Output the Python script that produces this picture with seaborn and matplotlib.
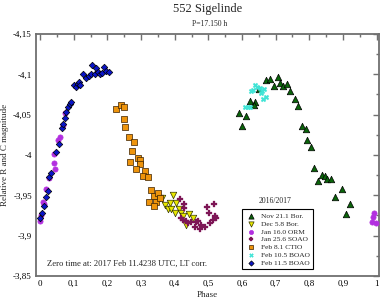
#!/usr/bin/env python3
"""552 Sigelinde composite lightcurve, P=17.150 h."""

import matplotlib
matplotlib.use("Agg")
import matplotlib.pyplot as plt
from matplotlib.ticker import FuncFormatter, MultipleLocator
import pandas as pd
import seaborn as sns

# Nov 21.1 Bor.
nov_phase = [0.591, 0.613, 0.601, 0.623, 0.640, 0.635, 0.651, 0.672, 0.684, 0.694, 0.706,
             0.712, 0.721, 0.733, 0.744, 0.756, 0.766, 0.777, 0.789, 0.793, 0.805, 0.815,
             0.825, 0.837, 0.848, 0.853, 0.865, 0.897, 0.876, 0.920, 0.909]
nov_mag = [-4.0517, -4.0487, -4.0356, -4.0666, -4.0661, -4.0616, -4.0818, -4.0930, -4.0938,
           -4.0859, -4.0963, -4.0889, -4.0859, -4.0876, -4.0790, -4.0690, -4.0611, -4.0359,
           -4.0319, -4.0182, -4.0099, -3.9843, -3.9681, -3.9752, -3.9740, -3.9699, -3.9699,
           -3.9575, -3.9476, -3.9393, -3.9272]

# Dec 5.8 Bor.
dec_phase = [0.395, 0.355, 0.363, 0.372, 0.385, 0.404, 0.380, 0.390, 0.412, 0.400, 0.419,
             0.424, 0.444, 0.454, 0.434]
dec_mag = [-3.9504, -3.9463, -3.9463, -3.9380, -3.9401, -3.9401, -3.9327, -3.9330, -3.9330,
           -3.9285, -3.9277, -3.9244, -3.9265, -3.9223, -3.9132]

# Jan 16.0 ORM
j16_phase = [0.000, 0.003, 0.010, 0.013, 0.018, 0.028, 0.040, 0.041, 0.044, 0.053, 0.058,
             0.068, 0.073, 0.989, 0.999, 0.987, 0.991]
j16_mag = [-3.9186, -3.9256, -3.9421, -3.9393, -3.9575, -3.9711, -3.9905, -4.0012, -3.9823,
           -4.0186, -4.0227, -4.0372, -4.0521, -3.9235, -3.9161, -3.9166, -3.9287]

# Jan 25.6 SOAO
j25_phase = [0.417, 0.429, 0.429, 0.496, 0.517, 0.501, 0.519, 0.524, 0.514, 0.506, 0.419,
             0.424, 0.434, 0.449, 0.464, 0.469, 0.439, 0.459, 0.474, 0.489, 0.479]
j25_mag = [-3.9454, -3.9393, -3.9339, -3.9355, -3.9389, -3.9277, -3.9244, -3.9215, -3.9194,
           -3.9153, -3.9223, -3.9194, -3.9182, -3.9173, -3.9173, -3.9186, -3.9153, -3.9104,
           -3.9079, -3.9104, -3.9132]

# Feb 8.1 CTIO
f08_phase = [0.225, 0.242, 0.248, 0.248, 0.252, 0.263, 0.280, 0.274, 0.290, 0.297, 0.268,
             0.296, 0.286, 0.312, 0.307, 0.320, 0.330, 0.340, 0.351, 0.323, 0.345, 0.340, 0.357]
f08_mag = [-4.0570, -4.0620, -4.0599, -4.0446, -4.0343, -4.0223, -4.0165, -4.0053, -3.9967,
           -3.9938, -3.9917, -3.9885, -3.9826, -3.9802, -3.9743, -3.9727, -3.9570, -3.9492,
           -3.9525, -3.9414, -3.9414, -3.9368, -3.9471]

# Feb 10.5 BOAO
f10_phase = [0.638, 0.646, 0.628, 0.633, 0.653, 0.658, 0.666, 0.656, 0.661, 0.670, 0.610,
             0.618, 0.623]
f10_mag = [-4.0868, -4.0847, -4.0797, -4.0806, -4.0827, -4.0797, -4.0814, -4.0772, -4.0690,
           -4.0723, -4.0591, -4.0591, -4.0599]

# Feb 11.5 BOAO
f11_phase = [0.000, 0.006, 0.013, 0.018, 0.023, 0.028, 0.033, 0.046, 0.056, 0.065, 0.068,
             0.073, 0.078, 0.083, 0.088, 0.093, 0.100, 0.106, 0.113, 0.116, 0.118, 0.128,
             0.137, 0.145, 0.152, 0.155, 0.162, 0.167, 0.172, 0.177, 0.185, 0.189, 0.197, 0.204]
f11_mag = [-3.9215, -3.9285, -3.9368, -3.9476, -3.9557, -3.9731, -3.9773, -4.0033, -4.0136,
           -4.0338, -4.0381, -4.0462, -4.0529, -4.0599, -4.0628, -4.0661, -4.0868, -4.0839,
           -4.0876, -4.0901, -4.0868, -4.1004, -4.0958, -4.0983, -4.1000, -4.1116, -4.1000,
           -4.1075, -4.1025, -4.1008, -4.1013, -4.1095, -4.1045, -4.1033]

# label, phases, mags, marker, face colour, edge colour, size
series = [
    ("Nov 21.1 Bor.", nov_phase, nov_mag, "^", "#0a640a", "black", 22),
    ("Dec 5.8 Bor.", dec_phase, dec_mag, "v", "#e8e800", "#333300", 22),
    ("Jan 16.0 ORM", j16_phase, j16_mag, "o", "#b22fe0", "#b22fe0", 14),
    ("Jan 25.6 SOAO", j25_phase, j25_mag, "P", "#7d1555", "#7d1555", 14),
    ("Feb 8.1 CTIO", f08_phase, f08_mag, "s", "#ee940c", "#3a2000", 13),
    ("Feb 10.5 BOAO", f10_phase, f10_mag, "X", "#40e4d6", "#40e4d6", 13),
    ("Feb 11.5 BOAO", f11_phase, f11_mag, "D", "#0a14c8", "black", 11),
]


def comma(v, pos):
    return f"{v:g}".replace(".", ",")


sns.set_style("white")
plt.rcParams["font.family"] = ["Liberation Serif", "DejaVu Serif"]
plt.rcParams["axes.unicode_minus"] = False

fig = plt.figure(figsize=(3.82, 2.99), dpi=100)
ax = fig.add_axes([36 / 382, 23 / 299, 343 / 382, 242 / 299])

for label, ph, mag, marker, fc, ec, size in series:
    df = pd.DataFrame({"phase": ph, "mag": mag})
    lw = 0.2 if marker in ("P", "X") else 0.5
    sns.scatterplot(data=df, x="phase", y="mag", marker=marker, color=fc,
                    edgecolor=ec, linewidth=lw, s=size, label=label, ax=ax, zorder=3)

ax.set_xlim(-0.012, 1.007)
ax.set_ylim(-3.85, -4.15)
ax.xaxis.set_major_locator(MultipleLocator(0.1))
ax.xaxis.set_minor_locator(MultipleLocator(0.05))
ax.yaxis.set_major_locator(MultipleLocator(0.05))
ax.yaxis.set_minor_locator(MultipleLocator(0.025))
ax.xaxis.set_major_formatter(FuncFormatter(comma))
ax.yaxis.set_major_formatter(FuncFormatter(comma))
ax.tick_params(which="both", direction="in", top=True, right=True,
               colors="#707070", labelcolor="black", labelsize=6.5, pad=3)
ax.tick_params(which="major", length=4, width=1)
ax.tick_params(which="minor", length=2.5, width=1)
for sp in ax.spines.values():
    sp.set_color("#707070")
    sp.set_linewidth(1.3)

ax.set_xlabel("Phase", fontsize=6.5, labelpad=2)
ax.set_ylabel("Relative R and C magnitude", fontsize=6.5, labelpad=3)

fig.text(207.5 / 382, 1 - 9 / 299, "552 Sigelinde", ha="center", va="center", fontsize=9)
fig.text(210 / 382, 1 - 24.5 / 299, "P=17.150 h", ha="center", va="center", fontsize=5.5)
ax.text(0.033, 0.05, "Zero time at: 2017 Feb 11.4238 UTC, LT corr.",
        transform=ax.transAxes, fontsize=6.2, va="center", ha="left")

leg = ax.legend(loc="lower left", bbox_to_anchor=(0.60, 0.029), fontsize=5.4,
                frameon=True, fancybox=False, framealpha=1, edgecolor="black",
                labelspacing=0.2, handletextpad=0.6, handlelength=1.5,
                borderpad=0.45, borderaxespad=0, markerscale=0.8)
leg.get_frame().set_linewidth(0.8)
fig.text(275 / 382, 1 - 201 / 299, "2016/2017", ha="center", va="center", fontsize=5.5)

fig.savefig("out.png", dpi=100)
